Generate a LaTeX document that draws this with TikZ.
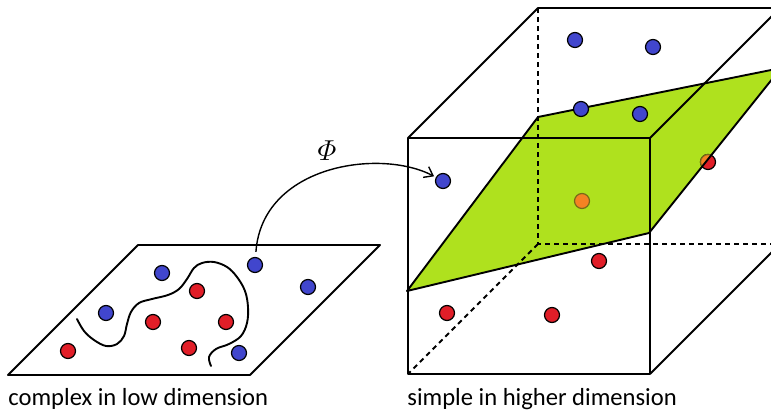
\documentclass[tikz,border=0pt]{standalone}
\usepackage{amsmath}
\usepackage{fontspec}
\setsansfont{Carlito}
\usetikzlibrary{arrows.meta}

\definecolor{dotblue}{RGB}{65,70,205}
\definecolor{dotred}{RGB}{225,30,40}
\definecolor{planegreen}{RGB}{175,225,30}
\definecolor{mixorange}{RGB}{245,130,35}
\definecolor{mixedge}{RGB}{120,105,25}

\begin{document}
\begin{tikzpicture}[
  x=0.5pt, y=-0.5pt,
  dot/.style={circle, draw=black, line width=0.6pt, inner sep=0pt, minimum size=7.5pt},
  bdot/.style={dot, fill=dotblue},
  rdot/.style={dot, fill=dotred},
  odot/.style={dot, fill=mixorange, draw=mixedge},
  edge/.style={line width=0.95pt, line join=round},
  hidden/.style={edge, dash pattern=on 2.5pt off 2pt},
  arr/.style={-{Straight Barb[length=4pt,width=6pt]}, line width=0.7pt},
  caption/.style={font=\sffamily\fontsize{12.3}{14}\selectfont, anchor=base west, inner sep=0pt}
]
\clip (0,0) rectangle (771,412);

% low dimension plane
\draw[edge] (138,245) -- (380,245) -- (250,375) -- (8,375) -- cycle;

% separating curve
\draw[line width=0.95pt, line cap=round] plot[smooth, tension=0.6] coordinates {
  (77,319) (84,331) (94,340) (106,346) (117,344) (124,336) (127,324)
  (131,312) (139,303) (152,299) (168,295) (179,289) (187,279) (194,268)
  (202,263) (214,262) (227,267) (237,277) (245,291) (248,307) (247,323)
  (241,336) (229,344) (216,349) (209,357) (211,366)};

\node[bdot] (lb1) at (162,273) {};
\node[bdot] (lb2) at (255,265) {};
\node[bdot] (lb3) at (308,287) {};
\node[bdot] (lb4) at (106,313) {};
\node[bdot] (lb5) at (239,353) {};
\node[rdot] (lr1) at (197,291) {};
\node[rdot] (lr2) at (153,322) {};
\node[rdot] (lr3) at (226,322) {};
\node[rdot] (lr4) at (68,351) {};
\node[rdot] (lr5) at (189,348) {};

% cube corners
\coordinate (f1) at (408,138);
\coordinate (f2) at (650,138);
\coordinate (f3) at (650,374);
\coordinate (f4) at (408,374);
\coordinate (b1) at (538,8);
\coordinate (b2) at (780,8);
\coordinate (b3) at (780,244);
\coordinate (b4) at (538,244);

% separating plane
\coordinate (p1) at (407,291);
\coordinate (p2) at (538,117);
\coordinate (p3) at (781,68);
\coordinate (p4) at (649,233);
\fill[planegreen] (p1) -- (p2) -- (p3) -- (p4) -- cycle;

% dot half behind the plane
\node[rdot] (hr4) at (708,162) {};
\begin{scope}
  \clip (p1) -- (p2) -- (p3) -- (p4) -- cycle;
  \node[odot] at (hr4) {};
\end{scope}
\node[odot] (ho1) at (582,201) {};

\draw[edge] (p1) -- (p2) -- (p3) -- (p4) -- cycle;

% cube
\draw[hidden] (b1) -- (b4) -- (b3);
\draw[hidden] (b4) -- (f4);
\draw[edge] (f1) -- (f2) -- (f3) -- (f4) -- cycle;
\draw[edge] (f1) -- (b1) -- (b2) -- (f2);
\draw[edge] (b2) -- (b3) -- (f3);

\node[bdot] (hb1) at (575,40) {};
\node[bdot] (hb2) at (653,47) {};
\node[bdot] (hb3) at (581,109) {};
\node[bdot] (hb4) at (640,114) {};
\node[bdot] (hb5) at (443,181) {};
\node[rdot] (hr1) at (599,261) {};
\node[rdot] (hr2) at (447,313) {};
\node[rdot] (hr3) at (552,315) {};

% mapping
\draw[arr, shorten <=2.5pt, shorten >=1pt] (lb2) .. controls (262,165) and (380,148) .. (hb5);
\node[font=\fontsize{15}{17}\selectfont] (phi) at (327,151) {$\varPhi$};

\node[caption] (low) at (8,405) {complex in low dimension};
\node[caption] (high) at (407,405) {simple in higher dimension};
\end{tikzpicture}
\end{document}
